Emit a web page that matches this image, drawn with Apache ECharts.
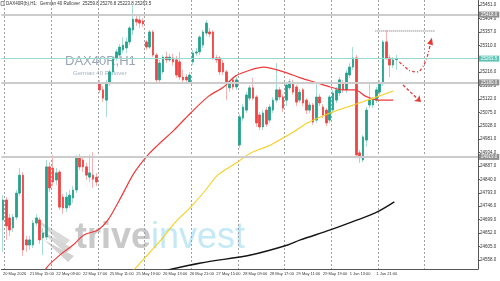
<!DOCTYPE html>
<html>
<head>
<meta charset="utf-8">
<script src="https://cdn.jsdelivr.net/npm/echarts@6/dist/echarts.min.js"></script>
<style>
  html, body { margin: 0; padding: 0; background: #fff; }
  #chart { width: 500px; height: 281px; }
</style>
</head>
<body>
<div id="chart"></div>
<script>
// DAX40R H1 bars, [open, close, low, high]
const candles = [
  [24698, 24768, 24586, 24785], [24768, 24677, 24628, 24778], [24705, 24663, 24642, 24719],
  [24670, 24708, 24656, 24719], [24708, 24792, 24698, 24803], [24792, 24855, 24782, 24880],
  [24855, 24593, 24572, 24866], [24628, 24610, 24586, 24642], [24610, 24628, 24593, 24642],
  [24610, 24687, 24600, 24698], [24687, 24705, 24677, 24719], [24698, 24628, 24614, 24708],
  [24635, 24652, 24575, 24670], [24638, 24884, 24628, 24908], [24884, 24810, 24796, 24901],
  [24880, 24831, 24817, 24926], [24838, 24863, 24820, 24880], [24866, 24743, 24733, 24873],
  [24778, 24740, 24719, 24789], [24740, 24778, 24726, 24796], [24750, 24785, 24740, 24803],
  [24775, 24803, 24757, 24817], [24803, 24915, 24792, 24926], [24915, 24884, 24873, 24929],
  [24908, 24884, 24866, 24919], [24884, 24855, 24838, 24898], [24848, 24863, 24831, 24926],
  [24855, 24841, 24810, 24936], [24848, 24831, 24817, 24863],
  // 25 May
  [25178, 25154, 25143, 25189], [25154, 25125, 25111, 25168], [25118, 25178, 25059, 25189],
  [25178, 25217, 25168, 25224], [25217, 25266, 25206, 25273], [25266, 25287, 25255, 25297],
  [25276, 25304, 25266, 25315], [25294, 25311, 25283, 25339], [25301, 25322, 25283, 25336],
  [25322, 25371, 25311, 25378], [25364, 25402, 25346, 25452], [25402, 25392, 25378, 25420],
  [25399, 25388, 25371, 25416], [25395, 25385, 25374, 25406],
  // 26 May
  [25322, 25304, 25294, 25329], [25304, 25357, 25297, 25364], [25357, 25276, 25269, 25364],
  [25276, 25189, 25175, 25283], [25189, 25248, 25178, 25259], [25217, 25269, 25210, 25276],
  [25269, 25259, 25248, 25287], [25259, 25269, 25252, 25280], [25266, 25252, 25238, 25280],
  [25259, 25206, 25196, 25273], [25252, 25199, 25189, 25287], [25199, 25189, 25175, 25224],
  [25199, 25189, 25175, 25210], [25182, 25206, 25175, 25217],
  // 27 May
  [25252, 25283, 25241, 25294], [25283, 25287, 25273, 25301], [25287, 25339, 25276, 25346],
  [25311, 25357, 25301, 25364], [25353, 25388, 25343, 25399], [25357, 25350, 25339, 25371],
  [25357, 25266, 25259, 25364], [25266, 25259, 25248, 25276], [25266, 25217, 25206, 25273],
  [25248, 25217, 25206, 25259], [25217, 25178, 25118, 25224], [25161, 25182, 25146, 25189],
  [25189, 25164, 25154, 25196], [25164, 25189, 25154, 25199],
  // 28 May
  [24961, 25059, 24950, 25069], [25055, 25094, 25045, 25104], [25083, 25136, 25073, 25146],
  [25125, 25161, 25115, 25171], [25161, 25125, 25118, 25196], [25129, 25038, 25024, 25136],
  [25066, 25024, 25013, 25076], [25024, 25073, 25013, 25083], [25083, 25034, 25024, 25094],
  [25048, 25094, 25038, 25104], [25083, 25118, 25073, 25129], [25118, 25154, 25108, 25248],
  [25154, 25129, 25118, 25164], [25129, 25090, 25076, 25139],
  // 29 May
  [25118, 25171, 25097, 25182], [25161, 25182, 25154, 25192], [25178, 25146, 25136, 25189],
  [25164, 25111, 25097, 25171], [25118, 25146, 25108, 25157], [25154, 25108, 25097, 25161],
  [25118, 25083, 25069, 25125], [25083, 25101, 25073, 25111], [25101, 25041, 25031, 25108],
  [25048, 25129, 25038, 25178], [25129, 25108, 25097, 25139], [25094, 25066, 25055, 25104],
  [25083, 25038, 25027, 25090], [25048, 25129, 25038, 25136],
  // 1 Jun
  [25083, 25143, 25073, 25154], [25118, 25154, 25108, 25164], [25143, 25189, 25132, 25199],
  [25178, 25154, 25143, 25189], [25154, 25213, 25143, 25224], [25206, 25234, 25196, 25248],
  [25234, 25266, 25224, 25304], [25266, 24926, 24919, 25276], [24933, 24919, 24898, 24943],
  [24908, 24989, 24901, 24996], [24978, 25083, 24954, 25094], [25101, 25118, 25090, 25178],
  [25101, 25118, 25090, 25129], [25118, 25154, 25108, 25164],
  // 2 Jun
  [25146, 25178, 25136, 25189], [25178, 25322, 25168, 25329], [25322, 25266, 25259, 25364],
  [25266, 25241, 25199, 25276], [25241, 25259, 25231, 25269], [25259.8, 25263.5, 25223.8, 25276.8]
];

const xLabels = ['20 May 2026', '21 May 15:00', '22 May 09:00', '22 May 17:00', '25 May 11:00',
  '25 May 19:00', '26 May 13:00', '26 May 21:00', '27 May 15:00', '28 May 09:00',
  '28 May 17:00', '29 May 11:00', '29 May 19:00', '1 Jun 13:00', '1 Jun 21:00'];

const yTicks = [24558, 24605, 24652, 24699, 24746, 24793, 24840, 24887, 24934, 24981,
  25028, 25075, 25122, 25169, 25216, 25263, 25310, 25357, 25404, 25451];

// moving averages, [bar, price]
const redMA = [[10.3, 24452], [13.0, 24529], [17.4, 24578], [21.0, 24610], [24.3, 24645],
  [28.5, 24663], [31.5, 24698], [35.4, 24778], [39.3, 24862], [43.5, 24926], [46.5, 24961],
  [51.3, 25013], [56.3, 25073], [61.7, 25132], [66.2, 25164], [69.8, 25203], [74.3, 25224],
  [78.2, 25234], [84.2, 25217], [89.2, 25196], [94.3, 25178], [98.2, 25164], [102.1, 25154],
  [105.7, 25154], [108.7, 25132], [112.6, 25118], [117.1, 25118]];
const yellowMA = [[34.8, 24452], [36.3, 24484], [41.4, 24550], [47.4, 24628], [51.8, 24691],
  [56.3, 24743], [60.8, 24803], [64.4, 24855], [70.4, 24901], [74.3, 24933], [80.3, 24961],
  [87.1, 25006], [91.3, 25038], [98.2, 25073], [105.1, 25101], [111.1, 25125], [117.1, 25150]];
const blackMA = [[42.9, 24505], [59.3, 24547], [74.3, 24575], [85.4, 24610], [89.2, 24628],
  [98.2, 24663], [106.3, 24698], [112.3, 24726], [117.4, 24761]];

const levels = [25418, 25180, 24919];
const bid = 25263.5;
const target = [[111.7, 25360], [129.6, 25360]];
const arrowCurve = [[118.9, 25252], [120.6, 25234], [122.4, 25220], [124.2, 25217],
  [125.7, 25231], [126.9, 25259], [127.8, 25294], [128.4, 25325]];
const arrowDown = [[120.0, 25171], [125.4, 25111]];

const header = 'DAX40R(b),H1:  German 40 Rollover  25259.8 25276.8 25223.8 25263.5';

const bull = '#22a18d';
const bear = '#ef4444';
const font = 'Liberation Sans';

// day separators every 14 bars, labels every 8 bars
const daySeps = [];
for (let i = 0.5; i < 128; i += 14) daySeps.push(i);
const labelBars = xLabels.map((_, k) => k * 8);

const wickData = candles.map((c, i) => [i, c[0], c[1], c[2], c[3]]);
const bodyData = candles.map((c, i) => [i, c[0], c[1], Math.min(c[0], c[1]), Math.max(c[0], c[1])]);

const boxLabel = (bg, fg) => ({
  show: true,
  position: 'end',
  distance: 1,
  formatter: p => Number(p.value).toFixed(1),
  fontSize: 4.5,
  fontFamily: font,
  color: fg,
  backgroundColor: bg,
  padding: [1, 2, 0, 2]
});

const chart = echarts.init(document.getElementById('chart'))

const option = {
  animation: false,
  backgroundColor: '#ffffff',
  grid: { left: 0, right: 22, top: 0, bottom: 12 },
  xAxis: {
    type: 'value',
    min: -0.5,
    max: 142.5,
    axisLine: { show: true, onZero: false, lineStyle: { color: '#555', width: 1 } },
    axisTick: { show: false, customValues: daySeps },
    axisLabel: {
      customValues: labelBars,
      formatter: v => xLabels[Math.round(v / 8)] || '',
      fontSize: 4,
      fontFamily: font,
      color: '#333',
      align: 'left',
      margin: 3
    },
    splitLine: { show: true, lineStyle: { color: '#a0a0a0', type: [2, 2], width: 1 } }
  },
  yAxis: {
    type: 'value',
    position: 'right',
    min: 24526,
    max: 25469,
    axisLine: { show: true, onZero: false, lineStyle: { color: '#555', width: 1 } },
    axisTick: { show: true, length: 2, customValues: yTicks, lineStyle: { color: '#555' } },
    axisLabel: {
      customValues: yTicks,
      formatter: v => v.toFixed(1),
      fontSize: 4.5,
      fontFamily: font,
      color: '#333',
      margin: 2
    },
    splitLine: { show: false }
  },
  graphic: [
    { type: 'rect', shape: { x: 1, y: 1.5, width: 3, height: 4 }, style: { fill: 'none', stroke: '#555', lineWidth: 0.6 } },
    { type: 'text', x: 6, y: 1, style: { text: header, fontSize: 4.5, fontFamily: font, fill: '#333' } },
    { type: 'text', x: 65, y: 55, style: { text: 'DAX40R,H1', fontSize: 13, fontFamily: font, fill: '#9aa5b7' } },
    { type: 'text', x: 73, y: 70, style: { text: 'German 40 Rollover', fontSize: 6, fontFamily: font, fill: '#a7b0c0' } },
    { type: 'polygon', shape: { points: [[33, 217], [70, 240], [64, 246]] }, style: { fill: '#dadada' } },
    { type: 'polygon', shape: { points: [[37, 228], [72, 248], [66, 253]] }, style: { fill: '#d6d6d6' } },
    { type: 'polygon', shape: { points: [[44, 240], [74, 256], [68, 262]] }, style: { fill: '#d2d2d2' } },
    {
      type: 'text', x: 75, y: 220,
      style: {
        text: '{a|trive}{b|invest}',
        rich: {
          a: { fontSize: 36, fontWeight: 'bold', fontFamily: font, fill: '#c9c9c9' },
          b: { fontSize: 36, fontFamily: font, fill: '#c4e9f6' }
        }
      }
    }
  ],
  series: [
    {
      name: 'wicks',
      type: 'candlestick',
      data: wickData,
      encode: { x: 0, y: [1, 2, 3, 4] },
      barWidth: 1,
      itemStyle: { color: '#a8ddd5', color0: '#f7b3b3', borderColor: '#a8ddd5', borderColor0: '#f7b3b3', borderWidth: 1 }
    },
    {
      name: 'bodies',
      type: 'candlestick',
      data: bodyData,
      encode: { x: 0, y: [1, 2, 3, 4] },
      barWidth: 2,
      itemStyle: { color: bull, color0: bear, borderColor: bull, borderColor0: bear, borderWidth: 0.8 },
      markLine: {
        silent: true,
        symbol: 'none',
        animation: false,
        data: [
          ...levels.map(v => ({ yAxis: v, lineStyle: { color: '#cccccc', width: 2, type: 'solid' }, label: boxLabel('#8f8f8f', '#ffffff') })),
          { yAxis: bid, lineStyle: { color: '#98d9d1', width: 1, type: 'solid' }, label: boxLabel('#5fc4b6', '#ffffff') },
          [
            { coord: target[0], lineStyle: { color: '#b5b5b5', width: 2, type: [1, 1] }, label: { show: false } },
            { coord: target[1] }
          ],
          [
            { coord: arrowDown[0], symbol: 'none', lineStyle: { color: '#e53935', width: 1.3, type: [3, 2] }, label: { show: false } },
            { coord: arrowDown[1], symbol: 'arrow', symbolSize: 6 }
          ]
        ]
      }
    },
    {
      name: 'MA red', type: 'line', data: redMA, smooth: 0.3, showSymbol: false,
      lineStyle: { color: '#f03a3a', width: 1.2 }
    },
    {
      name: 'MA yellow', type: 'line', data: yellowMA, smooth: 0.3, showSymbol: false,
      lineStyle: { color: '#f5cf1e', width: 1.1 }
    },
    {
      name: 'MA black', type: 'line', data: blackMA, smooth: 0.3, showSymbol: false,
      lineStyle: { color: '#151515', width: 1.4 }
    },
    {
      name: 'arrow', type: 'line', smooth: 0.5, symbol: 'none', showAllSymbol: true,
      data: arrowCurve.map((p, i) => i === arrowCurve.length - 1
        ? { value: p, symbol: 'triangle', symbolSize: [6, 7], symbolRotate: -15, itemStyle: { color: '#e53935' } }
        : p),
      lineStyle: { color: '#e53935', width: 1.3, type: [3, 2, 1, 2] }
    }
  ]
}

chart.setOption(option)
</script>
</body>
</html>
